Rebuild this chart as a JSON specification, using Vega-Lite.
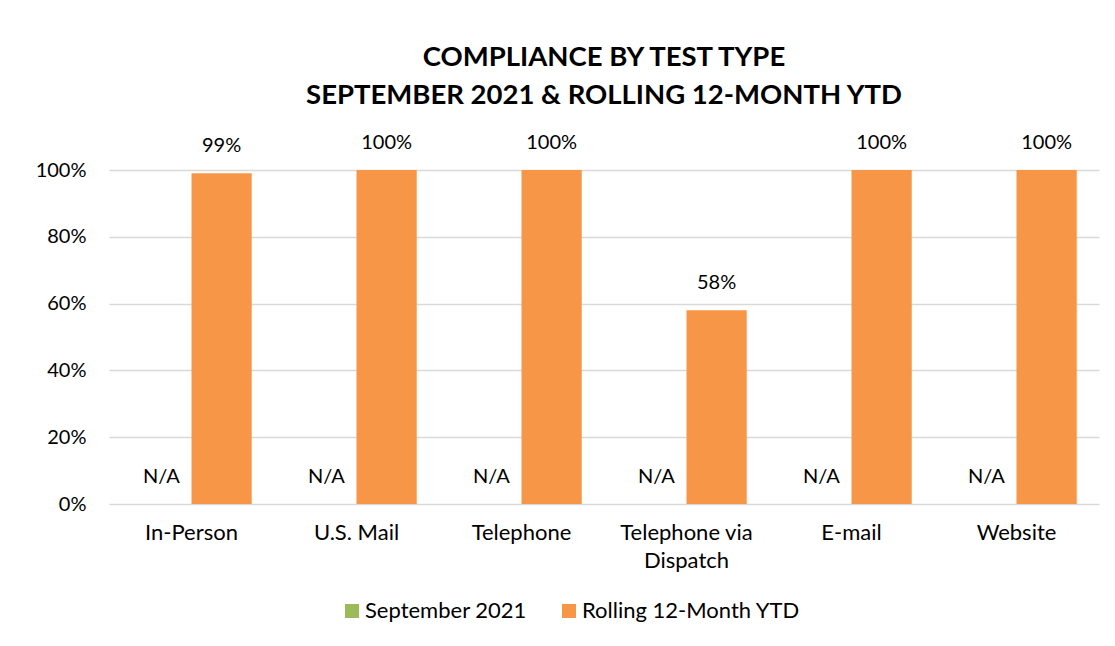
{
  "$schema": "https://vega.github.io/schema/vega-lite/v6.json",
  "width": 990,
  "height": 334,
  "autosize": {"type": "pad"},
  "padding": {"left": 35, "top": 43, "right": 10, "bottom": 10},
  "background": "white",
  "config": {
    "font": "Lato",
    "view": {"stroke": null},
    "axis": {"labelFont": "Lato", "labelFontSize": 20, "labelColor": "black"}
  },
  "title": {
    "text": ["COMPLIANCE BY TEST TYPE", "SEPTEMBER 2021 & ROLLING 12-MONTH YTD"],
    "font": "Lato",
    "fontSize": 27.5,
    "fontWeight": "bold",
    "color": "black",
    "lineHeight": 38,
    "anchor": "middle",
    "offset": 24
  },
  "data": {
    "values": [
      {"category": "In-Person", "series": "September 2021", "value": 0, "label": "N/A"},
      {"category": "In-Person", "series": "Rolling 12-Month YTD", "value": 0.99, "label": "99%"},
      {"category": "U.S. Mail", "series": "September 2021", "value": 0, "label": "N/A"},
      {"category": "U.S. Mail", "series": "Rolling 12-Month YTD", "value": 1.0, "label": "100%"},
      {"category": "Telephone", "series": "September 2021", "value": 0, "label": "N/A"},
      {"category": "Telephone", "series": "Rolling 12-Month YTD", "value": 1.0, "label": "100%"},
      {"category": "Telephone via Dispatch", "series": "September 2021", "value": 0, "label": "N/A"},
      {"category": "Telephone via Dispatch", "series": "Rolling 12-Month YTD", "value": 0.58, "label": "58%"},
      {"category": "E-mail", "series": "September 2021", "value": 0, "label": "N/A"},
      {"category": "E-mail", "series": "Rolling 12-Month YTD", "value": 1.0, "label": "100%"},
      {"category": "Website", "series": "September 2021", "value": 0, "label": "N/A"},
      {"category": "Website", "series": "Rolling 12-Month YTD", "value": 1.0, "label": "100%"}
    ]
  },
  "encoding": {
    "x": {
      "field": "category",
      "type": "nominal",
      "sort": ["In-Person", "U.S. Mail", "Telephone", "Telephone via Dispatch", "E-mail", "Website"],
      "scale": {"paddingInner": 0.27, "paddingOuter": 0.135},
      "axis": {
        "title": null,
        "labelAngle": 0,
        "ticks": false,
        "domain": false,
        "labelPadding": 18,
        "labelFontSize": 22,
        "labelLineHeight": 28,
        "labelExpr": "datum.value == 'Telephone via Dispatch' ? ['Telephone via', 'Dispatch'] : datum.value"
      }
    },
    "xOffset": {
      "field": "series",
      "type": "nominal",
      "sort": ["September 2021", "Rolling 12-Month YTD"]
    },
    "y": {
      "field": "value",
      "type": "quantitative",
      "scale": {"domain": [0, 1], "nice": false},
      "axis": {
        "title": null,
        "format": ".0%",
        "values": [0, 0.2, 0.4, 0.6, 0.8, 1.0],
        "ticks": false,
        "domain": false,
        "labelPadding": 23,
        "gridColor": "#D9D9D9",
        "gridWidth": 1.5
      }
    }
  },
  "layer": [
    {
      "mark": {"type": "bar"},
      "encoding": {
        "color": {
          "field": "series",
          "type": "nominal",
          "sort": ["September 2021", "Rolling 12-Month YTD"],
          "scale": {"domain": ["September 2021", "Rolling 12-Month YTD"], "range": ["#9BBB59", "#F79646"]},
          "legend": {
            "title": null,
            "orient": "none",
            "direction": "horizontal",
            "legendX": 232,
            "legendY": 430,
            "symbolType": "square",
            "symbolSize": 196,
            "symbolStrokeWidth": 0,
            "symbolOpacity": 1,
            "labelFont": "Lato",
            "labelFontSize": 22,
            "labelColor": "black",
            "labelOffset": 2,
            "labelLimit": 0,
            "columnPadding": 31,
            "padding": 0
          }
        }
      }
    },
    {
      "mark": {"type": "text", "baseline": "middle", "dy": -27, "fontSize": 20, "font": "Lato", "color": "black"},
      "encoding": {
        "text": {"field": "label", "type": "nominal"}
      }
    }
  ]
}
